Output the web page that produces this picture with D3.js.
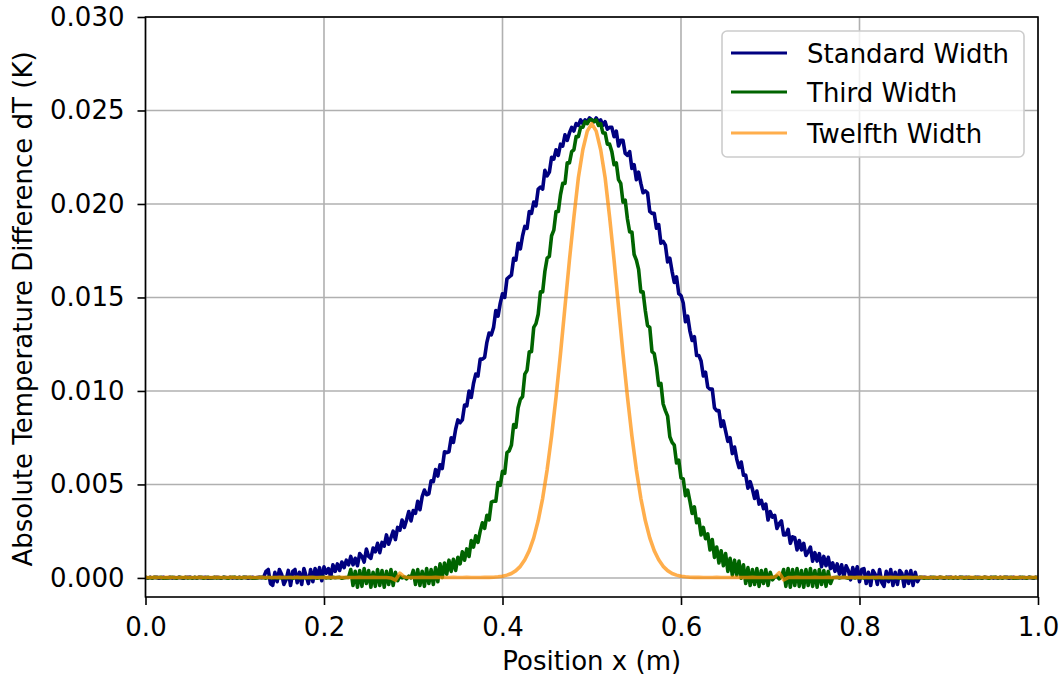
<!DOCTYPE html>
<html>
<head>
<meta charset="utf-8">
<script src="https://cdn.jsdelivr.net/npm/d3@7/dist/d3.min.js"></script>
<style>
  html, body { margin: 0; padding: 0; background: #fff; }
  svg { display: block; font-family: "DejaVu Sans", sans-serif; }
</style>
</head>
<body>
<svg id="chart" width="1064" height="681"></svg>
<script>
'use strict';

var xTicks = [0, 0.2, 0.4, 0.6, 0.8, 1.0];
var yTicks = [0, 0.005, 0.010, 0.015, 0.020, 0.025, 0.030];
var seriesNames = ['Standard Width', 'Third Width', 'Twelfth Width'];
var seriesColors = ['navy', 'darkgreen', 'darkorange'];

// dT in mK, evenly spaced from x = 0 to x = 1
// (standard and third: every 0.0025 m, twelfth: every 0.005 m)
var standardMK = [
    0.02, -0.01, 0.03, 0.00, 0.02, 0.04, -0.02, 0.01, 0.03, 0.00,
    0.01, 0.03, -0.01, 0.02, 0.00, 0.03, 0.01, -0.02, 0.02, 0.04,
    0.03, 0.00, 0.02, -0.01, 0.04, 0.01, 0.02, 0.03, -0.02, 0.01,
    0.00, 0.02, 0.04, 0.01, -0.01, 0.03, 0.02, 0.00, 0.03, -0.01,
    0.02, -0.01, 0.03, 0.00, 0.02, 0.04, -0.02, 0.01, 0.03, 0.00,
    0.02, 0.04, 0.01, 0.05,
    0.35, 0.45, -0.30, -0.40, 0.30, -0.20, 0.45, 0.20, -0.35, -0.10,
    0.40, -0.40, 0.35, 0.45, -0.25, 0.30, -0.35, 0.50, 0.10, -0.30,
    0.45, -0.20, 0.50, 0.05, 0.55, -0.15, 0.60, 0.25, 0.50, 0.05,
    0.70, 0.35, 0.75, 0.40, 0.85, 0.55, 0.95, 0.70,
    1.15, 0.70, 1.05, 0.65, 1.30, 1.15, 0.85, 1.55, 1.15, 1.05,
    1.60, 1.40, 1.85, 1.35, 1.90, 1.70, 2.30, 1.80, 2.15, 2.50,
    2.05, 2.70, 2.55, 3.10, 2.70, 3.10, 3.55, 3.05, 3.60, 3.45,
    4.10, 3.65, 4.35, 4.70, 4.45, 4.50, 5.20, 5.15, 5.80, 5.45,
    6.05, 5.85, 6.75, 6.70, 6.75, 7.50, 7.25, 7.95, 8.45, 8.30,
    8.45, 9.25, 9.20, 10.0, 9.65, 10.4, 10.9, 10.8, 11.7, 11.7,
    11.8, 12.6, 13.1, 13.0, 13.4, 14.3, 14.0, 14.7, 15.2, 15.0,
    16.0, 16.1, 16.2, 17.1, 17.0, 17.9, 17.6, 18.3, 18.8, 18.7,
    19.6, 19.5, 20.1, 19.9, 20.8, 20.9, 20.8, 21.8, 21.5, 21.7,
    22.5, 22.4, 22.9, 22.6, 23.2, 23.1, 23.7, 23.4, 23.8, 24.1,
    23.9, 24.3, 24.2, 24.5, 24.3, 24.5, 24.4, 24.6,
    24.5,
    24.4, 24.6, 24.4, 24.5, 24.2, 24.4, 24.0, 24.1, 24.1, 23.6,
    23.9, 23.1, 23.4, 23.4, 22.7, 22.6, 22.8, 21.9, 22.1, 21.3,
    21.7, 21.1, 20.6, 20.7, 20.6, 19.6, 19.5, 19.5, 18.7, 18.9,
    17.9, 18.0, 17.8, 16.9, 17.1, 16.4, 15.8, 16.1, 15.2, 15.1,
    14.7, 13.7, 14.0, 13.2, 12.7, 12.9, 11.9, 11.9, 11.6, 10.8,
    11.0, 10.2, 10.1, 10.1, 9.10, 8.95, 8.95, 8.10, 8.40, 7.85,
    7.30, 7.50, 6.65, 7.00, 6.35, 5.90, 6.20, 5.50, 5.50, 4.80,
    5.15, 4.75, 4.25, 4.65, 3.95, 4.15, 3.70, 3.95, 3.10, 3.55,
    3.25, 3.35, 2.65, 2.90, 3.05, 2.30, 2.30, 2.60, 1.85, 2.20,
    2.15, 1.50, 2.00, 1.50, 1.85, 1.20, 1.40, 1.65, 0.90, 1.35,
    0.90, 1.30, 0.60, 1.15, 0.65, 1.10, 0.50,
    0.80, 0.35, 0.75, 0.20, 0.70, 0.05, 0.65, 0.40, -0.10, 0.55,
    0.10, 0.60, -0.20, 0.45, 0.50, -0.30, 0.30, -0.40, 0.40, 0.20,
    -0.35, 0.45, -0.25, -0.45, 0.35, -0.20, 0.45, -0.40, 0.30, -0.35,
    0.40, 0.25, -0.45, 0.35, -0.30, 0.40, -0.40, 0.30, -0.20,
    0.03, 0.01, 0.04, 0.02,
    0.01, 0.03, -0.01, 0.02, 0.00, 0.03, 0.01, -0.02, 0.02, 0.04,
    0.03, 0.00, 0.02, -0.01, 0.04, 0.01, 0.02, 0.03, -0.02, 0.01,
    0.00, 0.02, 0.04, 0.01, -0.01, 0.03, 0.02, 0.00, 0.03, -0.01,
    0.02, -0.01, 0.03, 0.00, 0.02, 0.04, -0.02, 0.01, 0.03, 0.00,
    0.01, 0.03, -0.01, 0.02, 0.00, 0.03, 0.01, -0.02, 0.02, 0.04
];

var thirdMK = [
    0.03, 0.00, 0.02, -0.01, 0.04, 0.01, 0.02, 0.03, -0.02, 0.01,
    0.00, 0.02, 0.04, 0.01, -0.01, 0.03, 0.02, 0.00, 0.03, -0.01,
    0.02, -0.01, 0.03, 0.00, 0.02, 0.04, -0.02, 0.01, 0.03, 0.00,
    0.01, 0.03, -0.01, 0.02, 0.00, 0.03, 0.01, -0.02, 0.02, 0.04,
    0.03, 0.00, 0.02, -0.01, 0.04, 0.01, 0.02, 0.03, -0.02, 0.01,
    0.00, 0.02, 0.04, 0.01, -0.01, 0.03, 0.02, 0.00, 0.03, -0.01,
    0.02, -0.01, 0.03, 0.00, 0.02, 0.04, -0.02, 0.01, 0.03, 0.00,
    0.01, 0.03, -0.01, 0.02, 0.00, 0.03, 0.01, -0.02, 0.02, 0.04,
    0.03, 0.00, 0.02, -0.01, 0.04, 0.01, 0.02, 0.03, -0.02, 0.01,
    0.02, 0.03,
    0.45, -0.40, 0.35, -0.50, 0.40, -0.45, 0.50, -0.30, 0.40, -0.50,
    0.30, -0.45, 0.45, -0.40, 0.40, -0.50, 0.35, -0.35, 0.45, -0.40,
    0.30, -0.15, 0.10, 0.00, 0.05, -0.05, 0.10, 0.00, 0.40, -0.35,
    0.45, -0.40, 0.35, -0.45, 0.50, -0.30, 0.45, -0.35, 0.55, -0.20,
    0.75, 0.03, 0.80, 0.20, 0.95, 0.35, 1.00, 0.40, 1.10, 0.75,
    1.40, 0.95, 1.55, 1.15, 2.00, 1.65, 2.25, 1.90, 2.50, 2.95,
    2.65, 3.35, 3.10, 4.05, 4.10, 4.10, 5.10, 4.95, 5.70, 5.60,
    6.70, 6.80, 7.10, 8.20, 8.05, 9.10, 9.55, 9.70, 10.9, 11.1,
    12.1, 12.1, 13.4, 13.6, 14.1, 15.3, 15.3, 16.4, 17.1, 17.2,
    18.3, 18.6, 19.6, 19.6, 20.5, 21.1, 21.1, 22.2, 22.2, 22.8,
    22.9, 23.6, 23.6, 24.1, 24.1, 24.4, 24.3, 24.5,
    24.5,
    24.4, 24.5, 24.2, 24.3, 23.8, 23.8, 23.2, 23.2, 22.8, 22.1,
    22.2, 21.3, 21.1, 20.1, 20.2, 19.2, 18.5, 18.5, 17.3, 17.0,
    16.5, 15.3, 15.3, 14.3, 13.5, 13.4, 12.1, 12.0, 11.3, 10.3,
    10.4, 9.30, 8.95, 8.65, 7.55, 7.25, 7.10, 6.15, 6.30, 5.35,
    5.30, 4.40, 4.70, 4.10, 3.45, 3.80, 2.95, 3.15, 2.30, 2.70,
    2.10, 2.35, 1.50, 2.05, 1.10, 1.65, 0.80, 1.45, 0.65, 1.30,
    0.35, 1.05, 0.15, 0.95, 0.15, 0.90, -0.02, 0.70,
    -0.30, 0.55, -0.40, 0.45, -0.35, 0.50, -0.45, 0.40, -0.30, 0.45,
    -0.40, 0.30, -0.10, 0.05, 0.10, -0.05, 0.05, 0.45, -0.45, 0.50,
    -0.50, 0.45, -0.40, 0.50, -0.45, 0.40, -0.50, 0.45, -0.40, 0.50,
    -0.45, 0.40, -0.50, 0.45, -0.35, 0.40, -0.45, 0.35, -0.30,
    0.01, 0.02, 0.03,
    0.00, 0.02, 0.04, 0.01, -0.01, 0.03, 0.02, 0.00, 0.03, -0.01,
    0.02, -0.01, 0.03, 0.00, 0.02, 0.04, -0.02, 0.01, 0.03, 0.00,
    0.01, 0.03, -0.01, 0.02, 0.00, 0.03, 0.01, -0.02, 0.02, 0.04,
    0.03, 0.00, 0.02, -0.01, 0.04, 0.01, 0.02, 0.03, -0.02, 0.01,
    0.00, 0.02, 0.04, 0.01, -0.01, 0.03, 0.02, 0.00, 0.03, -0.01,
    0.02, -0.01, 0.03, 0.00, 0.02, 0.04, -0.02, 0.01, 0.03, 0.00,
    0.01, 0.03, -0.01, 0.02, 0.00, 0.03, 0.01, -0.02, 0.02, 0.04,
    0.03, 0.00, 0.02, -0.01, 0.04, 0.01, 0.02, 0.03, -0.02, 0.01,
    0.00, 0.02, 0.04, 0.01, -0.01, 0.03, 0.02, 0.00, 0.03, -0.01
];

var twelfthMK = [
    0.02, 0.02, 0.03, 0.02, 0.02, 0.03, 0.02, 0.02, 0.02, 0.03,
    0.02, 0.02, 0.03, 0.02, 0.02, 0.02, 0.03, 0.02, 0.02, 0.03,
    0.02, 0.02, 0.02, 0.03, 0.02, 0.02, 0.03, 0.02, 0.02, 0.02,
    0.03, 0.02, 0.02, 0.02, 0.03, 0.02, 0.02, 0.03, 0.02, 0.02,
    0.02, 0.03, 0.02, 0.02, 0.03, 0.02, 0.02, 0.02, 0.03, 0.02,
    0.02, 0.03, 0.02, 0.02, 0.02, 0.00, -0.12, 0.25, 0.05, 0.02,
    0.02, 0.02, 0.03, 0.02, 0.02, 0.03, 0.02, 0.02, 0.02, 0.03,
    0.02, 0.02, 0.03, 0.02, 0.02, 0.02, 0.03, 0.03, 0.04, 0.06,
    0.09, 0.15, 0.24, 0.39, 0.62, 0.97, 1.46, 2.14, 3.07, 4.26,
    5.78, 7.59, 9.68, 12.0, 14.5, 17.0, 19.3, 21.4, 22.9, 23.9,
    24.3,
    23.9, 22.9, 21.4, 19.3, 17.0, 14.5, 12.0, 9.68, 7.59, 5.78,
    4.26, 3.07, 2.14, 1.46, 0.97, 0.62, 0.39, 0.24, 0.15, 0.09,
    0.06, 0.04, 0.03, 0.03, 0.02, 0.02, 0.02, 0.03, 0.02, 0.02,
    0.02, 0.03, 0.02, 0.02, 0.02, 0.03, 0.02, 0.02, 0.02, 0.03,
    0.05, 0.28, -0.10, 0.02, 0.02, 0.03, 0.02, 0.02, 0.02, 0.03,
    0.02, 0.02, 0.03, 0.02, 0.02, 0.02, 0.03, 0.02, 0.02, 0.03,
    0.02, 0.02, 0.02, 0.03, 0.02, 0.02, 0.03, 0.02, 0.02, 0.02,
    0.03, 0.02, 0.02, 0.03, 0.02, 0.02, 0.02, 0.03, 0.02, 0.02,
    0.03, 0.02, 0.02, 0.02, 0.03, 0.02, 0.02, 0.03, 0.02, 0.02,
    0.02, 0.03, 0.02, 0.02, 0.03, 0.02, 0.02, 0.02, 0.03, 0.02
];

var plotLeft = 145.5, plotRight = 1038, plotTop = 17, plotBottom = 597;
var fontSize = 26;
var lineWidth = 3.6;

var svg = d3.select('#chart');

var x = d3.scaleLinear().domain([0, 1]).range([plotLeft, plotRight]);
var y = d3.scaleLinear().domain([-0.00102, 0.030]).range([plotBottom, plotTop]);

// grid
var grid = svg.append('g').attr('stroke', '#b0b0b0').attr('stroke-width', 1.6);
xTicks.forEach(t => {
    grid.append('line').attr('x1', x(t)).attr('x2', x(t)).attr('y1', plotTop).attr('y2', plotBottom);
});
yTicks.forEach(t => {
    grid.append('line').attr('x1', plotLeft).attr('x2', plotRight).attr('y1', y(t)).attr('y2', y(t));
});

svg.append('clipPath').attr('id', 'plotclip')
    .append('rect')
    .attr('x', plotLeft).attr('y', plotTop)
    .attr('width', plotRight - plotLeft).attr('height', plotBottom - plotTop);

var seriesData = [standardMK, thirdMK, twelfthMK];
var seriesOpacity = [1, 1, 0.7];

var plot = svg.append('g').attr('clip-path', 'url(#plotclip)');
seriesData.forEach((vals, k) => {
    var step = 1 / (vals.length - 1);
    var line = d3.line()
        .x((d, i) => x(i * step))
        .y(d => y(d / 1000));
    plot.append('path')
        .datum(vals)
        .attr('d', line)
        .attr('fill', 'none')
        .attr('stroke', seriesColors[k])
        .attr('stroke-opacity', seriesOpacity[k])
        .attr('stroke-width', lineWidth)
        .attr('stroke-linejoin', 'round');
});

// spines
svg.append('rect')
    .attr('x', plotLeft).attr('y', plotTop)
    .attr('width', plotRight - plotLeft).attr('height', plotBottom - plotTop)
    .attr('fill', 'none').attr('stroke', '#000').attr('stroke-width', 1.6);

var xAxis = svg.append('g')
    .attr('transform', `translate(0,${plotBottom})`)
    .call(d3.axisBottom(x).tickValues(xTicks).tickFormat(d3.format('.1f')).tickSize(8).tickPadding(13));
var yAxis = svg.append('g')
    .attr('transform', `translate(${plotLeft},0)`)
    .call(d3.axisLeft(y).tickValues(yTicks).tickFormat(d3.format('.3f')).tickSize(8).tickPadding(13));

[xAxis, yAxis].forEach(a => {
    a.select('.domain').remove();
    a.selectAll('.tick line').attr('stroke', '#000').attr('stroke-width', 1.6);
    a.selectAll('.tick text')
        .attr('fill', '#000')
        .attr('font-size', fontSize)
        .attr('font-family', '"DejaVu Sans", sans-serif');
});

svg.append('text')
    .attr('x', (plotLeft + plotRight) / 2)
    .attr('y', 670)
    .attr('text-anchor', 'middle')
    .attr('font-size', fontSize)
    .text('Position x (m)');

svg.append('text')
    .attr('transform', `translate(32,${(plotTop + plotBottom) / 2 + 2}) rotate(-90)`)
    .attr('text-anchor', 'middle')
    .attr('font-size', fontSize)
    .text('Absolute Temperature Difference dT (K)');

// legend
var legend = svg.append('g');
legend.append('rect')
    .attr('x', 722).attr('y', 31)
    .attr('width', 302).attr('height', 126)
    .attr('rx', 5).attr('ry', 5)
    .attr('fill', '#fff').attr('fill-opacity', 0.8)
    .attr('stroke', '#cccccc').attr('stroke-width', 1.6);

var rowY = [53, 92, 133];
seriesNames.forEach((name, k) => {
    legend.append('line')
        .attr('x1', 731).attr('x2', 787)
        .attr('y1', rowY[k]).attr('y2', rowY[k])
        .attr('stroke', seriesColors[k])
        .attr('stroke-opacity', seriesOpacity[k])
        .attr('stroke-width', 3.2);
    legend.append('text')
        .attr('x', 807)
        .attr('y', rowY[k] + 9.5)
        .attr('font-size', fontSize)
        .text(name);
});
</script>
</body>
</html>
